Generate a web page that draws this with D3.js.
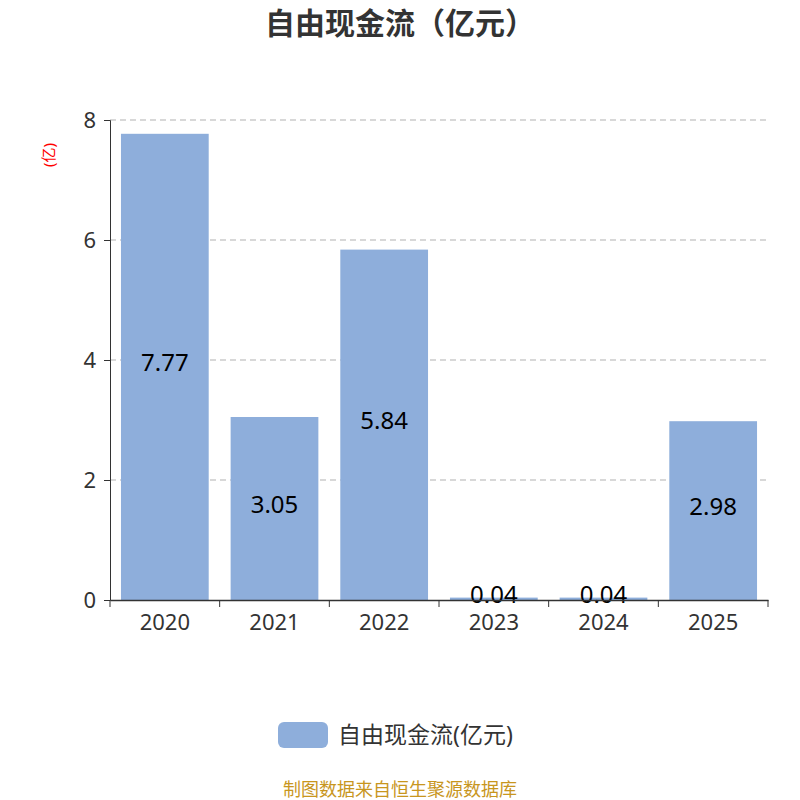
<!DOCTYPE html>
<html><head><meta charset="utf-8">
<script src="https://cdn.jsdelivr.net/npm/d3@7"></script>
<style>body{margin:0;background:#fff;font-family:"Noto Sans","Noto Sans CJK SC",sans-serif;}</style>
</head><body><svg id="c" width="800" height="800"></svg>
<script>
const categories=["2020","2021","2022","2023","2024","2025"];
const values=[7.77,3.05,5.84,0.04,0.04,2.98];
const yTicks=[0,2,4,6,8];
const svg=d3.select("#c");
const font='"Noto Sans","Noto Sans CJK SC",sans-serif';
const x=d3.scaleBand().domain(categories).range([110,768]).paddingInner(0.2).paddingOuter(0.1);
const xb=d3.scaleBand().domain(categories).range([110,768]);
const y=d3.scaleLinear().domain([0,8]).range([600,120]);
svg.append("text").attr("x",400).attr("y",34).attr("text-anchor","middle").attr("font-size",30).attr("font-weight","bold").attr("fill","#333").attr("font-family",font).text("自由现金流（亿元）");
svg.selectAll(".g").data(yTicks.filter(d=>d>0)).join("line").attr("x1",110).attr("x2",768).attr("y1",d=>y(d)).attr("y2",d=>y(d)).attr("stroke","#ccc").attr("stroke-dasharray","6,4").attr("stroke-width",1.5);
svg.selectAll(".b").data(values).join("rect").attr("x",(d,i)=>x(categories[i])).attr("width",x.bandwidth()).attr("y",d=>y(d)).attr("height",d=>600-y(d)).attr("fill","#8eaedb");
svg.selectAll(".l").data(values).join("text").attr("x",(d,i)=>x(categories[i])+x.bandwidth()/2).attr("y",d=>(y(d)+600)/2-4).attr("dy","0.35em").attr("text-anchor","middle").attr("font-size",24).attr("fill","#000").attr("font-family",font).text(d=>d.toFixed(2));
const ya=svg.append("g").attr("transform","translate(110,0)").call(d3.axisLeft(y).tickValues(yTicks).tickSize(6).tickPadding(8));
ya.selectAll("text").attr("font-size",22).attr("fill","#333").attr("font-family",font);
ya.selectAll("line,path").attr("stroke","#333");
const xa=svg.append("g").attr("transform","translate(0,600)").call(d3.axisBottom(xb).tickSize(0).tickPadding(14).tickSizeOuter(0));
xa.selectAll("text").attr("font-size",22).attr("fill","#333").attr("font-family",font);
xa.select("path").attr("stroke","#333").attr("stroke-width",1.5);
svg.selectAll(".t").data(d3.range(categories.length+1)).join("line").attr("x1",i=>110+i*xb.bandwidth()).attr("x2",i=>110+i*xb.bandwidth()).attr("y1",600).attr("y2",607).attr("stroke","#333");
svg.append("text").attr("transform","translate(54,155) rotate(-90)").attr("text-anchor","middle").attr("font-size",15).attr("fill","red").attr("font-family",font).text("(亿)");
svg.append("rect").attr("x",278).attr("y",722).attr("width",50).attr("height",26).attr("rx",6).attr("fill","#8eaedb");
svg.append("text").attr("x",338).attr("y",743).attr("font-size",23).attr("fill","#333").attr("font-family",font).text("自由现金流(亿元)");
svg.append("text").attr("x",400).attr("y",796).attr("text-anchor","middle").attr("font-size",18).attr("fill","#c8961e").attr("font-family",font).text("制图数据来自恒生聚源数据库");
</script></body></html>
